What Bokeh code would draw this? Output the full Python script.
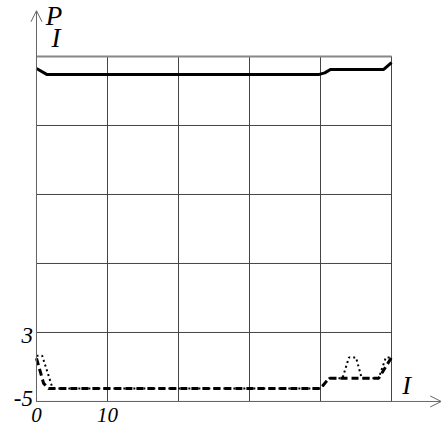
from bokeh.plotting import figure
from bokeh.models import Range1d, Arrow, OpenHead
from bokeh.core.properties import value
from bokeh.embed import file_html
from bokeh.resources import INLINE

# grid positions and tick labels
x_grid = [0, 10, 20, 30, 40, 50]
y_grid = [-5, 3, 11, 19, 27, 35]
x_tick_vals = [0, 10]
x_tick_text = ["0", "10"]
y_tick_vals = [3, -5]
y_tick_text = ["3", "-5"]

# upper curve (solid)
solid_x = [0, 1.5, 39.7, 40.6, 41.4, 48.9, 50]
solid_y = [33.6, 32.9, 32.9, 33.1, 33.5, 33.5, 34.3]

# lower curve (dashed)
dash_x = [0, 1.0, 1.7, 40.0, 41.2, 48.2, 50]
dash_y = [0.0, -2.9, -3.5, -3.5, -2.3, -2.3, 0.1]

# lower curve (dotted)
dot_x = [0, 0.8, 2.2, 2.6, 40.0, 41.2, 43.1, 44.0, 45.0, 45.8, 48.2, 49.2, 50]
dot_y = [0.3, 0.3, -3.3, -3.5, -3.5, -2.3, -2.3, 0.1, 0.1, -2.3, -2.3, 0.1, 0.1]

W, H = 441, 429
p = figure(width=W, height=H, output_backend="svg", toolbar_location=None,
           x_range=Range1d(-5.07, 57.04), y_range=Range1d(-8.25, 41.49),
           min_border=0, outline_line_color=None)
p.axis.visible = False
p.grid.visible = False
p.background_fill_color = "white"

# grid
p.segment(x0=x_grid, y0=[-5] * len(x_grid), x1=x_grid, y1=[35] * len(x_grid),
          line_color="#444444", line_width=1)
p.segment(x0=[0] * len(y_grid), y0=y_grid, x1=[50] * len(y_grid), y1=y_grid,
          line_color="#444444", line_width=1)
p.segment(x0=[0], y0=[35], x1=[50], y1=[35], line_color="#888888", line_width=2)

# axes with arrow heads
p.add_layout(Arrow(end=OpenHead(size=11, line_width=1, line_color="#666666"),
                   x_start=0, y_start=-5, x_end=0, y_end=40.3,
                   line_color="#666666", line_width=1))
p.add_layout(Arrow(end=OpenHead(size=11, line_width=1, line_color="#666666"),
                   x_start=0, y_start=-5, x_end=57.0, y_end=-5,
                   line_color="#666666", line_width=1))

# curves
p.line(dot_x, dot_y, line_color="black", line_width=2, line_dash="2 3")
p.line(dash_x, dash_y, line_color="black", line_width=3, line_dash="7 4")
p.line(solid_x, solid_y, line_color="black", line_width=3)

font = value("Liberation Serif")
p.text(x=x_tick_vals, y=[-6.62] * 2, text=x_tick_text, text_font=font,
       text_font_style="italic", text_font_size="21px",
       text_align="center", text_baseline="middle")
p.text(x=[-0.5] * 2, y=[2.6, -4.6], text=y_tick_text, text_font=font,
       text_font_style="italic", text_font_size="23px",
       text_align="right", text_baseline="middle")
p.text(x=[1.3], y=[39.7], text=["P"], text_font=font, text_font_style="italic",
       text_font_size="27px", text_align="left", text_baseline="middle")
p.text(x=[2.1], y=[37.2], text=["I"], text_font=font, text_font_style="italic",
       text_font_size="27px", text_align="left", text_baseline="middle")
p.text(x=[51.5], y=[-3.1], text=["I"], text_font=font, text_font_style="italic",
       text_font_size="26px", text_align="left", text_baseline="middle")

open("out.html", "w").write(file_html(p, INLINE))
